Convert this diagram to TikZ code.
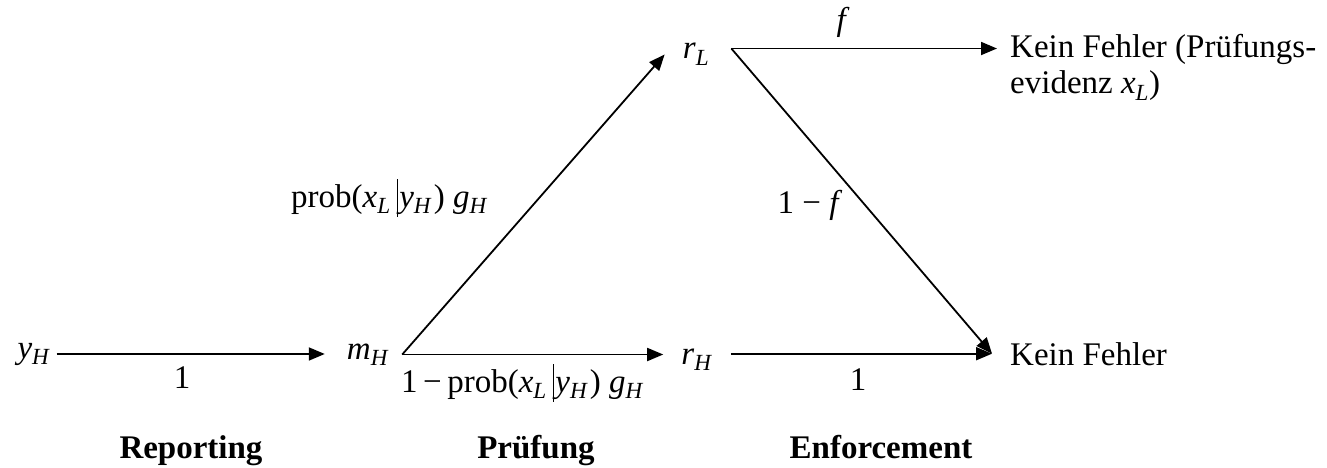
\documentclass[tikz,border=0pt]{standalone}
\usepackage{fontspec}
\setmainfont{Liberation Serif}
\usetikzlibrary{arrows.meta}
\newcommand\sv[2]{\textit{#1}\textsubscript{\textit{#2}}}
\newcommand\cbar{\kern0.18em\rule[-0.3em]{0.04em}{1.15em}\kern0.04em}
\begin{document}
\begin{tikzpicture}[x=1pt,y=-1pt,
  font=\fontsize{33}{39}\selectfont,
  txt/.style={inner sep=0pt},
  arr/.style={-{Triangle[length=16pt,width=13pt]}, line width=1.8pt}]
\useasboundingbox (0,0) rectangle (1327,468);
% state nodes
\node[txt, anchor=base] (yH) at (34,358) {\sv{y}{H}};
\node[txt, anchor=base] (mH) at (368,359) {\sv{m}{H}};
\node[txt, anchor=base] (rL) at (696,59) {\sv{r}{L}};
\node[txt, anchor=base] (rH) at (697,364) {\sv{r}{H}};
\node[txt, anchor=base west] (kf1) at (1010,58) {Kein Fehler (Prüfungs-};
\node[txt, anchor=base west] (kf1b) at (1010,94) {evidenz \sv{x}{L})};
\node[txt, anchor=base west] (kf2) at (1010,365) {Kein Fehler};
% connectors
\draw[arr, shorten <=6pt, shorten >=22pt] (yH.east) -- (yH.east -| mH.west);
\draw[arr] ([xshift=13pt]mH.east) -- ([xshift=-18pt]mH.east -| rH.west);
\draw[arr] ([xshift=13pt]mH.east) -- ([xshift=-18pt]rL.west);
\draw[arr] ([shift={(22pt,6pt)}]rL.east) coordinate (rLo) -- ([xshift=-13pt]rLo -| kf1.west);
\draw[arr] (rLo) -- ([xshift=-18pt]kf2.west);
\draw[arr] ([xshift=18pt]rH.east |- kf2.west) -- ([xshift=-18pt]kf2.west);
% edge labels
\node[txt, anchor=base] (l1) at (182,388) {1};
\node[txt, anchor=base west] (lp) at (291,207) {prob(\sv{x}{L}\cbar\sv{y}{H}\kern0.05em) \sv{g}{H}};
\node[txt, anchor=base west] (lq) at (401,392) {1\,−\,prob(\sv{x}{L}\cbar\sv{y}{H}\kern0.05em) \sv{g}{H}};
\node[txt, anchor=base] (lf) at (843,31) {\textit{f}};
\node[txt, anchor=base] (l1f) at (810,213) {1 − \textit{f}};
\node[txt, anchor=base] (l2) at (858,390) {1};
% stage labels
\node[txt, anchor=base] (s1) at (191,458) {\textbf{Reporting}};
\node[txt, anchor=base] (s2) at (536,458) {\textbf{Prüfung}};
\node[txt, anchor=base] (s3) at (881,458) {\textbf{Enforcement}};
\end{tikzpicture}
\end{document}
